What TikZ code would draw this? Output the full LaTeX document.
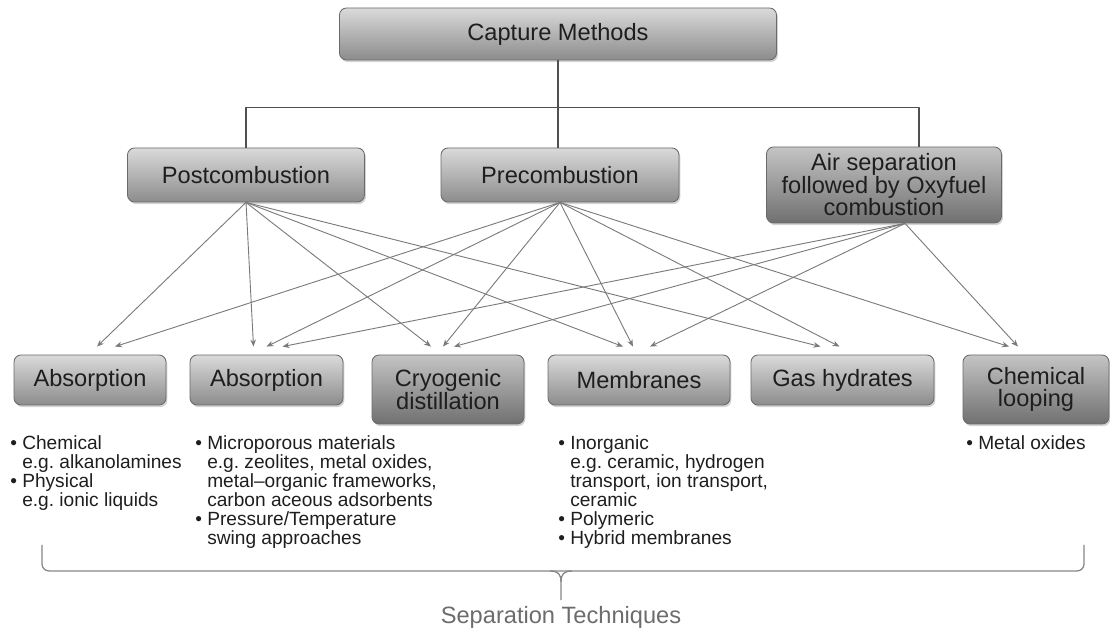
\documentclass[tikz,border=0pt]{standalone}
\usepackage{fontspec}
\setmainfont{Liberation Sans}
\usetikzlibrary{arrows.meta,positioning,calc,shadows}
\definecolor{boxtop}{HTML}{DADADA}
\definecolor{boxbot}{HTML}{8C8C8C}
\definecolor{darktop}{HTML}{C4C4C4}
\definecolor{darkbot}{HTML}{707070}
\definecolor{boxline}{HTML}{6A6A6A}
\definecolor{inkcol}{HTML}{1E1E1E}
\definecolor{arrcol}{HTML}{7A7A7A}
\definecolor{treecol}{HTML}{505050}
\definecolor{bracecol}{HTML}{858585}
\newcommand\pxl{0.7113pt}
\newcommand\boxfont{\fontsize{16.8}{16}\selectfont}
\newcommand\listfont{\fontsize{13.6}{13.5}\selectfont}
\newcommand\bul{\textbullet\ }
\newcommand\ind{\phantom{\textbullet\ }}
\tikzset{
  methodbox/.style={rounded corners=5pt, draw=boxline, line width=0.6pt,
    top color=boxtop, bottom color=boxbot,
    drop shadow={shadow xshift=1pt, shadow yshift=-1.5pt, opacity=.35},
    font=\boxfont, text=inkcol, align=center, inner sep=0pt},
  darkbox/.style={methodbox, top color=darktop, bottom color=darkbot},
  listtext/.style={font=\listfont, text=inkcol, align=left, inner sep=0pt, anchor=north west},
  tree/.style={draw=treecol, line width=1.1pt},
  arr/.style={draw=arrcol, line width=0.65pt, ->, >={Stealth[length=5pt,width=4pt]}},
  brace/.style={draw=bracecol, line width=0.9pt}
}

\begin{document}
\begin{tikzpicture}[x=\pxl, y=-\pxl, line join=round]
\useasboundingbox (0,0) rectangle (1110,632);

% methods
\node[methodbox, minimum width=437*\pxl, minimum height=52*\pxl] (cap)  at (558,34)  {Capture Methods};
\node[methodbox, minimum width=237*\pxl, minimum height=54*\pxl] (post) at (246,175) {Postcombustion};
\node[methodbox, minimum width=238*\pxl, minimum height=54*\pxl] (pre)  at (560,175) {Precombustion};
\node[darkbox,   minimum width=235*\pxl, minimum height=76*\pxl] (air)  at (884,185) {Air separation\\followed by Oxyfuel\\combustion};

\coordinate (split) at ($(cap.south)+(0,47)$);
\draw[tree] (cap.south) -- (split);
\draw[tree] (post.north) |- (split) -| ($(air.north)+(35,0)$);
\draw[tree] (split) -- (split |- pre.north);

% separation techniques
\node[methodbox, minimum width=152*\pxl, minimum height=50*\pxl] (abs1) at (90,380)    {Absorption};
\node[methodbox, minimum width=153*\pxl, minimum height=50*\pxl] (abs2) at (266.5,380) {Absorption};
\node[darkbox,   minimum width=152*\pxl, minimum height=69*\pxl] (cryo) at (448,389.5) {Cryogenic\\distillation};
\node[methodbox, minimum width=182*\pxl, minimum height=50*\pxl] (memb) at (639,380)   {Membranes};
\node[methodbox, minimum width=183*\pxl, minimum height=50*\pxl] (gas)  at (842.5,380) {Gas hydrates};
\node[darkbox,   minimum width=146*\pxl, minimum height=69*\pxl] (chem) at (1036,389.5) {Chemical\\looping};

\coordinate (airfoot) at ($(air.south)+(21,0)$);
\foreach \src/\dst/\dx in {post.south/abs1/7, pre.south/abs1/25,
    post.south/abs2/-13, pre.south/abs2/0, airfoot/abs2/16,
    post.south/cryo/-17, pre.south/cryo/-5, airfoot/cryo/6,
    post.south/memb/-16, pre.south/memb/-6, airfoot/memb/11,
    post.south/gas/-22, pre.south/gas/-3,
    pre.south/chem/-27, airfoot/chem/-18}
  \draw[arr] (\src) -- ($(\dst.north)+(\dx,-8)$);

% lists
\node[listtext] (abs1list) at (10,435) {\bul Chemical\\\ind e.g.\ alkanolamines\\\bul Physical\\\ind e.g.\ ionic liquids};
\node[listtext] (abs2list) at (195,435) {\bul Microporous materials\\\ind e.g.\ zeolites, metal oxides,\\\ind metal--organic frameworks,\\\ind carbon aceous adsorbents\\\bul Pressure/Temperature\\\ind swing approaches};
\node[listtext] (memblist) at (558,435) {\bul Inorganic\\\ind e.g.\ ceramic, hydrogen\\\ind transport, ion transport,\\\ind ceramic\\\bul Polymeric\\\bul Hybrid membranes};
\node[listtext] (chemlist) at (966,435) {\bul Metal oxides};

% brace
\draw[brace, rounded corners=5pt] (42,545) -- (42,571) -- (1084,571) -- (1084,545);
\draw[brace] (550,571) .. controls (558,571) and (561,574) .. (561,582) -- (561,600);
\draw[brace] (572,571) .. controls (564,571) and (561,574) .. (561,582);
\node[font=\boxfont, text=gray!85!black] (septitle) at (561,617) {Separation Techniques};
\end{tikzpicture}
\end{document}
